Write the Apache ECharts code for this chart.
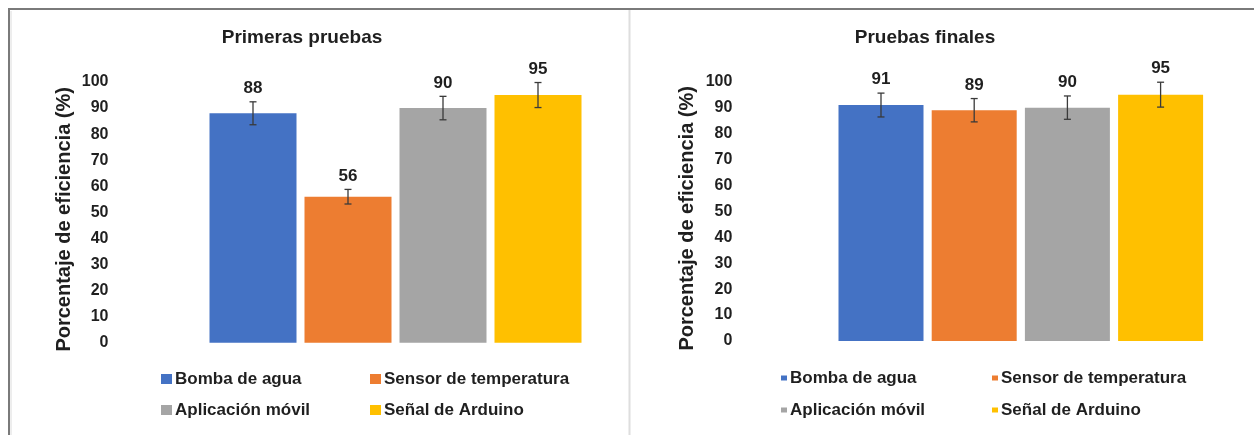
<!DOCTYPE html>
<html>
<head>
<meta charset="utf-8">
<script src="https://cdn.jsdelivr.net/npm/echarts@6/dist/echarts.min.js"></script>
<style>
  html, body { margin: 0; padding: 0; background: #ffffff; }
  #chart { width: 1254px; height: 435px; }
</style>
</head>
<body>
<div id="chart"></div>
<script>
// ---- data ----
const categories = ['Bomba de agua', 'Sensor de temperatura', 'Aplicación móvil', 'Señal de Arduino'];
const colors = ['#4472C4', '#ED7D31', '#A5A5A5', '#FFC000'];
const titlesPanels = ['Primeras pruebas', 'Pruebas finales'];
const primerasValues = [88, 56, 90, 95];
const primerasErrors = [4.4, 2.8, 4.5, 4.8];
const finalesValues = [91, 89, 90, 95];
const finalesErrors = [4.6, 4.5, 4.5, 4.8];
const yTicks = { min: 0, max: 100, interval: 10 };
const axisTitle = 'Porcentaje de eficiencia (%)';

// ---- layout ----
const FONT = '"Liberation Sans", Arial, sans-serif';
const TXT = '#1f1f1f';
const panels = [
  { grid: { left: 205.5, top: 82, width: 380, height: 260.7 }, barWidth: 87, nameGap: 131,
    titleX: 297, legendLeft: [161, 370], legendTop: [370, 401], icon: [11, 10],
    values: primerasValues, errors: primerasErrors },
  { grid: { left: 834.4, top: 81.7, width: 372.8, height: 259.3 }, barWidth: 85, nameGap: 137,
    titleX: 920, legendLeft: [781, 992], legendTop: [369, 401], icon: [6, 5],
    values: finalesValues, errors: finalesErrors }
];

const option = {
  backgroundColor: '#ffffff',
  animation: false,
  title: [], grid: [], xAxis: [], yAxis: [], series: [], legend: [],
  graphic: [
    { type: 'line', shape: { x1: 8, y1: 9, x2: 1254, y2: 9 }, style: { stroke: '#7a7a7a', lineWidth: 2 } },
    { type: 'line', shape: { x1: 9, y1: 8, x2: 9, y2: 435 }, style: { stroke: '#7a7a7a', lineWidth: 2 } },
    { type: 'line', shape: { x1: 11, y1: 11, x2: 11, y2: 435 }, style: { stroke: '#dcdcdc', lineWidth: 1 } },
    { type: 'line', shape: { x1: 629.5, y1: 10, x2: 629.5, y2: 435 }, style: { stroke: '#dedede', lineWidth: 2 } }
  ]
};

panels.forEach((p, k) => {
  option.title.push({
    text: titlesPanels[k], left: p.titleX, top: 23, textAlign: 'center',
    textStyle: { fontFamily: FONT, fontSize: 19, fontWeight: 'bold', color: TXT }
  });
  option.grid.push(Object.assign({}, p.grid));
  option.xAxis.push({
    type: 'category', gridIndex: k, data: categories,
    axisLine: { show: false }, axisTick: { show: false }, axisLabel: { show: false }, splitLine: { show: false }
  });
  option.yAxis.push({
    type: 'value', gridIndex: k, min: yTicks.min, max: yTicks.max, interval: yTicks.interval,
    axisLine: { show: false }, axisTick: { show: false }, splitLine: { show: false },
    axisLabel: { fontFamily: FONT, fontSize: 16, fontWeight: 'bold', color: TXT, margin: k === 0 ? 97 : 102 },
    name: axisTitle, nameLocation: 'middle', nameRotate: 90, nameGap: p.nameGap,
    nameTextStyle: { fontFamily: FONT, fontSize: 20, fontWeight: 'bold', color: TXT, padding: [0, 14, 0, 0] }
  });
  categories.forEach((c, i) => {
    option.series.push({
      type: 'bar', name: c, xAxisIndex: k, yAxisIndex: k,
      data: categories.map((_, j) => (j === i ? p.values[i] : '-')),
      barWidth: p.barWidth, barGap: '-100%',
      itemStyle: { color: colors[i] }
    });
  });
  option.series.push({
    type: 'custom', xAxisIndex: k, yAxisIndex: k, z: 5,
    data: p.values.map((v, i) => [i, v, p.errors[i]]),
    renderItem: function (params, api) {
      const x = api.value(0), v = api.value(1), e = api.value(2);
      const top = api.coord([x, v + e]);
      const bot = api.coord([x, v - e]);
      const cw = 3.5;
      const st = { stroke: '#3a3a3a', lineWidth: 1.3 };
      return {
        type: 'group',
        children: [
          { type: 'line', shape: { x1: top[0], y1: top[1], x2: bot[0], y2: bot[1] }, style: st },
          { type: 'line', shape: { x1: top[0] - cw, y1: top[1], x2: top[0] + cw, y2: top[1] }, style: st },
          { type: 'line', shape: { x1: bot[0] - cw, y1: bot[1], x2: bot[0] + cw, y2: bot[1] }, style: st },
          { type: 'text', x: top[0], y: top[1] - 5,
            style: { text: String(v), fill: TXT, font: 'bold 17px ' + FONT, align: 'center', verticalAlign: 'bottom' } }
        ]
      };
    }
  });
  categories.forEach((c, i) => {
    option.legend.push({
      data: [c], left: p.legendLeft[i % 2], top: p.legendTop[Math.floor(i / 2)],
      padding: 0, icon: 'rect', itemWidth: p.icon[0], itemHeight: p.icon[1], itemGap: 0,
      selectedMode: false,
      textStyle: { fontFamily: FONT, fontSize: 17, fontWeight: 'bold', color: TXT, lineHeight: 18, padding: [0, 0, 0, -2] }
    });
  });
});

const chart = echarts.init(document.getElementById('chart'), null, { renderer: 'canvas' });
chart.setOption(option);
</script>
</body>
</html>
